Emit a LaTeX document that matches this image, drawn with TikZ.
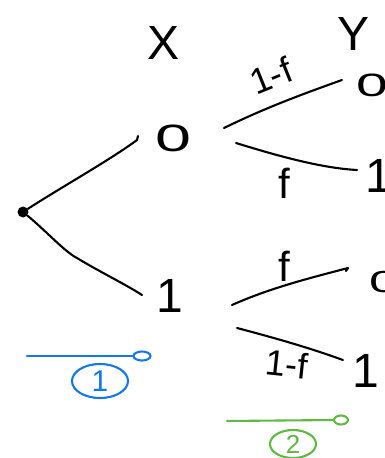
\documentclass[tikz,border=0pt]{standalone}
\usepackage{fontspec}
\setmainfont{Liberation Sans}
\usetikzlibrary{shapes.geometric}
\definecolor{penblue}{RGB}{20,120,235}
\definecolor{pengreen}{RGB}{95,185,65}
\tikzset{
  pen/.style={line width=2.1pt, line cap=round, line join=round},
  lab/.style={inner sep=0pt, font=\fontsize{38}{38}\selectfont},
  biglab/.style={inner sep=0pt, font=\fontsize{48}{48}\selectfont},
  elab/.style={inner sep=0pt, font=\fontsize{42}{42}\selectfont},
  tip/.style={ellipse, draw, line width=2.1pt, inner sep=0pt, minimum width=17pt, minimum height=9pt},
  circnum/.style={ellipse, draw, line width=2.1pt, inner sep=0pt, font=\fontsize{30}{30}\selectfont}
}
\begin{document}
\begin{tikzpicture}[x=1pt, y=-1pt]
\useasboundingbox (0,0) rectangle (384,458);
% headers
\node[biglab] (hx) at (164,43) {X};
\node[biglab] (hy) at (354,34) {Y};
% root
\node[circle, fill, inner sep=0pt, minimum size=11pt] (root) at (23,212) {};
% first level nodes
\node[lab, xscale=1.7] (n0) at (173,138) {0};
\node[biglab] (n1) at (170,296) {1};
% terminals (partly off the page)
\node[lab, xscale=1.5, yscale=0.85] (t00) at (372,85) {0};
\node[biglab] (t01) at (379,176) {1};
\node[lab, xscale=1.4, yscale=0.8] (t10) at (384,282) {0};
\node[biglab] (t11) at (366,371) {1};
% line ends
\coordinate (a0) at (137,140);
\coordinate (a1) at (142,295);
\coordinate (u1s) at (224,128);
\coordinate (u1e) at (342,80);
\coordinate (u2s) at (236,143);
\coordinate (u2e) at (357,170);
\coordinate (l1s) at (232,305);
\coordinate (l1e) at (348,268);
\coordinate (l2s) at (237,328);
\coordinate (l2e) at (343,360);
% first level edges
\draw[pen] (root) .. controls (60,188) and (110,160) .. (a0) -- ++(1,-4);
\draw[pen] (root) .. controls (45,230) and (65,252) .. (77,258) .. controls (100,272) and (125,284) .. (a1);
% second level edges
\draw[pen] (u1s) .. controls (265,108) and (300,95) .. (u1e);
\draw[pen] (u2s) .. controls (275,155) and (320,168) .. (u2e);
\draw[pen] (l1s) .. controls (270,288) and (310,278) .. (l1e) -- ++(-2,3);
\draw[pen] (l2s) .. controls (275,338) and (310,348) .. (l2e);
% edge labels
\node[elab, font=\fontsize{36}{36}\selectfont, rotate=22] (e1) at (271,76) {1-f};
\node[elab] (e2) at (284,183) {f};
\node[elab] (e3) at (284,266) {f};
\node[elab, font=\fontsize{36}{36}\selectfont, rotate=-6] (e4) at (287,364) {1-f};
% step arrows
\coordinate (b1) at (27,356);
\node[tip, draw=penblue] (b2) at (142,356) {};
\draw[pen, penblue] (b1) -- (b2.west);
\node[circnum, draw=penblue, text=penblue, minimum width=56pt, minimum height=34pt] (c1) at (100,381) {1};
\coordinate (g1) at (227,421);
\node[tip, draw=pengreen, minimum width=14pt] (g2) at (341,420) {};
\draw[pen, pengreen] (g1) -- (g2.west);
\node[circnum, draw=pengreen, text=pengreen, minimum width=46pt, minimum height=28pt, font=\fontsize{26}{26}\selectfont] (c2) at (293,444) {2};
\end{tikzpicture}
\end{document}
